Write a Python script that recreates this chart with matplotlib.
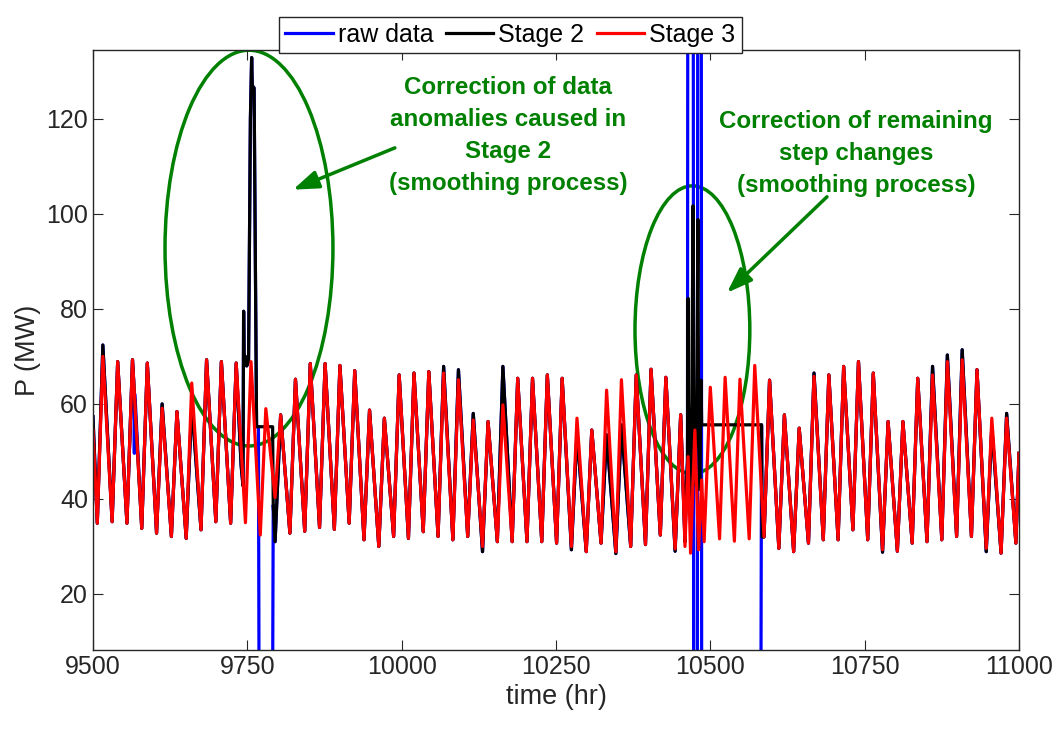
import numpy as np
import matplotlib.pyplot as plt
from matplotlib.patches import Ellipse

plt.rcParams['font.family'] = ['Liberation Sans', 'DejaVu Sans']

# Stage 3: one afternoon peak and one early morning trough per day (MW)
picos_s3 = [70.0, 68.9, 69.3, 68.6, 59.1, 58.4, 64.4, 69.3, 68.9, 68.6,
            68.9, 59.0, 57.7, 65.2, 68.5, 68.5, 68.1, 67.0, 58.7, 57.0,
            66.1, 66.5, 66.8, 66.5, 65.1, 56.6, 56.3, 59.8, 65.4, 65.4,
            66.1, 65.4, 57.0, 54.5, 62.9, 65.1, 66.1, 67.3, 65.6, 57.7,
            54.5, 63.5, 65.6, 65.2, 68.1, 65.0, 57.7, 54.9, 65.8, 66.1,
            67.9, 68.9, 66.5, 56.3, 56.3, 65.4, 66.1, 68.9, 69.3, 67.2,
            57.0, 57.0]
valles_s3 = [34.9, 35.2, 34.9, 33.8, 32.8, 32.1, 31.7, 33.5, 35.2, 34.9,
             35.0, 32.4, 40.3, 32.8, 33.2, 34.0, 33.6, 34.9, 31.4, 30.0,
             32.1, 31.7, 33.1, 32.1, 31.4, 32.1, 30.0, 31.0, 31.0, 31.0,
             31.0, 30.7, 30.0, 28.9, 30.7, 28.9, 30.0, 30.4, 32.4, 29.5,
             29.0, 31.6, 31.6, 31.1, 31.6, 32.0, 29.6, 28.9, 30.7, 31.4,
             31.4, 33.5, 31.4, 29.3, 29.0, 30.7, 31.0, 31.4, 32.1, 32.1,
             29.6, 28.6, 30.7]
hora_pico0 = 9516
hora_valle0 = 9507
inicio_s3, inicio_s2, fin = 54.5, 57.3, 49.6

# Stage 3 around the second bad block
t_s3_b = [10459, 10464, 10468, 10475, 10481, 10486, 10490]
v_s3_b = [30.0, 48.9, 28.6, 54.5, 29.3, 44.0, 31.0]

# Stage 2 days that differ from stage 3 (day index: MW)
picos_s2 = {0: 72.4, 4: 60.0, 6: 60.0, 23: 67.9, 24: 67.2, 25: 58.0, 27: 67.9,
            32: 53.8, 34: 53.5, 35: 55.6, 48: 66.5, 56: 67.9, 57: 70.3,
            58: 71.4, 60: 55.2, 61: 58.0}
valles_s2 = {26: 28.9, 32: 29.3, 35: 28.5, 39: 29.0, 53: 28.8, 60: 28.9}

# Stage 2 output on the two bad blocks
t_s2_a = [9740, 9743, 9744, 9745, 9747, 9749, 9752, 9755, 9757, 9758, 9761,
          9763, 9765, 9791, 9792, 9795]
v_s2_a = [47.0, 42.8, 79.5, 68.0, 70.0, 68.0, 69.0, 120.0, 132.9, 127.0, 126.5,
          92.0, 55.2, 55.2, 38.7, 31.0]
t_s2_b = [10459, 10461, 10463, 10464, 10465, 10467, 10470, 10472, 10473, 10475,
          10478, 10480, 10481, 10483, 10485, 10486, 10583, 10584]
v_s2_b = [31.0, 42.0, 48.0, 82.2, 46.0, 40.0, 60.0, 101.7, 50.0, 43.0,
          62.0, 98.8, 55.0, 42.0, 65.0, 55.6, 55.6, 32.0]

# raw data: drop-outs and out of range readings
t_raw_a = [9768, 9769, 9791]
v_raw_a = [55.2, 0.0, 0.0]
t_raw_b = [10464, 10472, 10473, 10479, 10480, 10485, 10486, 10582, 10583]
v_raw_b = [250.0, 250.0, 0.0, 0.0, 250.0, 250.0, 0.0, 0.0, 55.6]
t_raw_c = [9566, 9567, 9568]
v_raw_c = [65.0, 49.6, 62.0]


def armar(picos, valles, inicio):
    t = np.concatenate([[9500], hora_pico0 + 24 * np.arange(len(picos)),
                        hora_valle0 + 24 * np.arange(len(valles)), [11000]])
    v = np.concatenate([[inicio], picos, valles, [fin]])
    orden = np.argsort(t, kind='stable')
    return t[orden], v[orden]


def reemplazar(t, v, t0, t1, t_nuevo, v_nuevo):
    fuera = (t < t0) | (t > t1)
    t = np.concatenate([t[fuera], t_nuevo])
    v = np.concatenate([v[fuera], v_nuevo])
    orden = np.argsort(t, kind='stable')
    return t[orden], v[orden]


t3, v3 = armar(picos_s3, valles_s3, inicio_s3)
t3, v3 = reemplazar(t3, v3, 10455, 10492, t_s3_b, v_s3_b)

p2 = list(picos_s3)
for k, val in picos_s2.items():
    p2[k] = val
va2 = list(valles_s3)
for k, val in valles_s2.items():
    va2[k] = val
t2, v2 = armar(p2, va2, inicio_s2)
t2, v2 = reemplazar(t2, v2, 9738, 9796, t_s2_a, v_s2_a)
t2, v2 = reemplazar(t2, v2, 10456, 10586, t_s2_b, v_s2_b)

t1, v1 = reemplazar(t2, v2, 9766, 9791.5, t_raw_a, v_raw_a)
t1, v1 = reemplazar(t1, v1, 10463.5, 10583.5, t_raw_b, v_raw_b)
t1, v1 = reemplazar(t1, v1, 9565.5, 9568.5, t_raw_c, v_raw_c)

fig = plt.figure(figsize=(10.59, 7.31), dpi=100)
ax = fig.add_axes([0.0878, 0.1108, 0.8744, 0.8208])

ax.plot(t1, v1, color='blue', lw=2.3, label='raw data')
ax.plot(t2, v2, color='black', lw=2.3, label='Stage 2')
ax.plot(t3, v3, color='red', lw=2.3, label='Stage 3')

verde = '#008000'
ax.add_patch(Ellipse((9752.7, 92.8), 272, 83.3, fill=False, edgecolor=verde, lw=2.5))
ax.add_patch(Ellipse((10471, 75.6), 186, 60.6, fill=False, edgecolor=verde, lw=2.5))
ax.annotate('', xy=(9824, 105.1), xytext=(9989, 113.9),
            arrowprops=dict(arrowstyle='-|>,head_length=0.7,head_width=0.25', color=verde,
                            lw=2.5, mutation_scale=22, shrinkA=0, shrinkB=0))
ax.annotate('', xy=(10527, 83.4), xytext=(10689, 103.6),
            arrowprops=dict(arrowstyle='-|>,head_length=0.7,head_width=0.25', color=verde,
                            lw=2.5, mutation_scale=22, shrinkA=0, shrinkB=0))
ax.text(10172, 116.5, 'Correction of data\nanomalies caused in\nStage 2\n(smoothing process)',
        ha='center', va='center', color=verde, fontweight='bold', fontsize=17.4, linespacing=1.5)
ax.text(10736, 112.8, 'Correction of remaining\nstep changes\n(smoothing process)',
        ha='center', va='center', color=verde, fontweight='bold', fontsize=17.4, linespacing=1.5)

ax.set_xlim(9500, 11000)
ax.set_ylim(8.2, 134.5)
ax.set_xticks(np.arange(9500, 11001, 250))
ax.set_yticks(np.arange(20, 121, 20))
ax.tick_params(direction='in', length=7, top=True, right=True, labelsize=18,
               color='#262626', labelcolor='#262626')
for s in ax.spines.values():
    s.set_color('#262626')
    s.set_linewidth(1)
ax.set_xlabel('time (hr)', fontsize=19.5, color='#262626')
ax.set_ylabel('P (MW)', fontsize=19.5, color='#262626')

fig.legend(loc='upper center', bbox_to_anchor=(0.482, 0.9945), ncol=3, fontsize=18,
           handlelength=1.9, handletextpad=0.2, columnspacing=0.5, borderpad=0.25,
           fancybox=False, edgecolor='#262626', framealpha=1)

fig.savefig('out.png', dpi=100)
